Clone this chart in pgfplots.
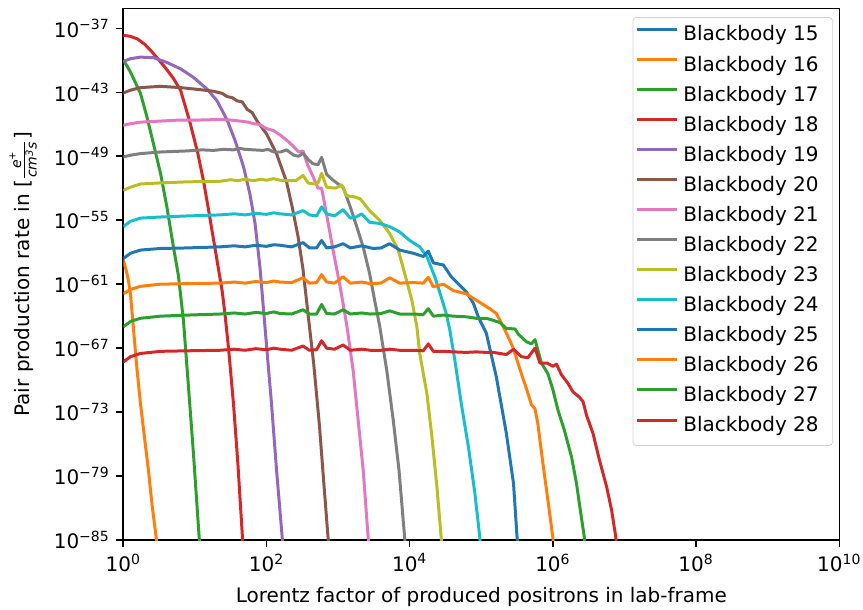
\documentclass[border=0pt]{standalone}
\usepackage{fontspec}
\setmainfont{DejaVu Sans}
\usepackage{amsmath}
\usepackage{pgfplots}
\pgfplotsset{compat=1.18}
\usetikzlibrary{calc}
\definecolor{tBlue}{HTML}{1F77B4}
\definecolor{tOrange}{HTML}{FF7F0E}
\definecolor{tGreen}{HTML}{2CA02C}
\definecolor{tRed}{HTML}{D62728}
\definecolor{tPurple}{HTML}{9467BD}
\definecolor{tBrown}{HTML}{8C564B}
\definecolor{tPink}{HTML}{E377C2}
\definecolor{tGray}{HTML}{7F7F7F}
\definecolor{tOlive}{HTML}{BCBD22}
\definecolor{tCyan}{HTML}{17BECF}
\newcommand{\legent}[1]{#1\kern6.2pt}
\begin{document}
\begin{tikzpicture}
\begin{axis}[
  scale only axis, width=381.9bp, height=283.6bp,
  xmin=0, xmax=10, ymin=-85, ymax=-35.12,
  xtick={0,2,4,6,8,10},
  xticklabels={10\textsuperscript{0},10\textsuperscript{2},10\textsuperscript{4},10\textsuperscript{6},10\textsuperscript{8},10\textsuperscript{10}},
  ytick={-85,-79,-73,-67,-61,-55,-49,-43,-37},
  yticklabels={10\textsuperscript{−85},10\textsuperscript{−79},10\textsuperscript{−73},10\textsuperscript{−67},10\textsuperscript{−61},10\textsuperscript{−55},10\textsuperscript{−49},10\textsuperscript{−43},10\textsuperscript{−37}},
  xtick pos=lower, ytick pos=left,
  tick align=outside, major tick length=3.75pt,
  every tick/.style={black, line width=0.85pt},
  axis line style={line width=0.85pt},
  tick label style={font=\fontsize{10.7}{12.8}\selectfont},
  label style={font=\fontsize{10.7}{12.8}\selectfont},
  xlabel={Lorentz factor of produced positrons in lab-frame},
  ylabel={Pair production rate in [$\frac{\textit{e}^{\textit{+}}}{\textit{cm}^{\textit{3}}\textit{s}}$]},
  xlabel style={at={(axis description cs:0.5,-0.107)}, anchor=center},
  ylabel style={at={(axis description cs:-0.14,0.5)}, anchor=center},
  legend style={at={(0.9912,0.9836)}, anchor=north east, draw=black!18, rounded corners=2pt,
    fill=white, fill opacity=0.8, text opacity=1, font=\fontsize{10.7}{12.8}\selectfont,
    inner xsep=1.3pt, inner ysep=1.9pt, row sep=0pt, column sep=2.7pt,
    nodes={inner sep=0pt, text height=10.7pt, text depth=5.4pt}},
  legend cell align=left,
  legend image code/.code={\draw[#1, line width=1.6pt] (0pt,3.7pt) -- (21.4pt,3.7pt);},
  every axis plot/.append style={line width=1.6pt, line join=round},
]
\addlegendimage{tBlue}\addlegendentry{\legent{Blackbody 15}}
\addplot[tOrange] coordinates {(0,-58.7) (0.04,-59.7) (0.07,-60.6) (0.10,-61.9) (0.14,-65.0) (0.19,-68.9) (0.24,-72.2) (0.30,-75.6) (0.35,-78.4) (0.40,-81.6) (0.46,-84.8) (0.48,-86.5)};
\addlegendentry{\legent{Blackbody 16}}
\addplot[tGreen] coordinates {(0,-40.0) (0.05,-40.5) (0.10,-41.1) (0.17,-42.1) (0.24,-43.1) (0.33,-45.3) (0.42,-47.8) (0.52,-50.6) (0.61,-53.8) (0.70,-57.5) (0.77,-60.2) (0.84,-64.4) (0.91,-70.6) (0.98,-76.9) (1.06,-84.8) (1.08,-86.5)};
\addlegendentry{\legent{Blackbody 17}}
\addplot[tRed] coordinates {(0,-37.65) (0.1,-37.75) (0.2,-38.0) (0.3,-38.5) (0.4,-39.2) (0.5,-40.0) (0.6,-40.8) (0.7,-41.7) (0.8,-42.8) (0.93,-45.8) (1.04,-48.7) (1.12,-51.3) (1.19,-54.0) (1.27,-57.2) (1.33,-59.6) (1.38,-61.6) (1.42,-63.8) (1.47,-67.0) (1.54,-72.3) (1.60,-77.8) (1.66,-84.3) (1.68,-86.5)};
\addlegendentry{\legent{Blackbody 18}}
\addplot[tPurple] coordinates {(0,-40.1) (0.1,-39.85) (0.24,-39.7) (0.42,-39.75) (0.61,-40.2) (0.8,-40.8) (0.98,-41.6) (1.17,-42.7) (1.31,-43.8) (1.45,-45.6) (1.56,-47.5) (1.68,-50.0) (1.77,-52.6) (1.84,-55.3) (1.91,-59.5) (1.96,-63.5) (2.01,-67.5) (2.07,-72.2) (2.14,-78.4) (2.22,-84.8) (2.24,-86.5)};
\addlegendentry{\legent{Blackbody 19}}
\addplot[tBrown] coordinates {(0,-43.06) (0.1,-42.8) (0.24,-42.56) (0.52,-42.44) (0.8,-42.56) (1.07,-42.75) (1.26,-42.9) (1.38,-43.1) (1.45,-43.4) (1.52,-43.5) (1.59,-43.8) (1.66,-43.9) (1.73,-44.6) (1.80,-44.9) (1.86,-45.6) (2.0,-46.9) (2.14,-48.75) (2.28,-51.4) (2.36,-53.8) (2.44,-56.5) (2.51,-59.6) (2.58,-63.8) (2.66,-68.5) (2.74,-74.3) (2.80,-79.6) (2.86,-84.8) (2.88,-86.5)};
\addlegendentry{\legent{Blackbody 20}}
\addplot[tPink] coordinates {(0,-46.1) (0.1,-45.95) (0.24,-45.8) (0.52,-45.7) (0.8,-45.6) (1.07,-45.6) (1.35,-45.55) (1.5,-45.6) (1.63,-45.7) (1.75,-45.8) (1.82,-45.95) (1.9,-46.0) (2.0,-46.4) (2.1,-46.6) (2.19,-47.0) (2.3,-47.6) (2.38,-48.1) (2.45,-48.6) (2.51,-48.5) (2.58,-49.9) (2.65,-50.9) (2.72,-52.0) (2.77,-52.0) (2.84,-54.5) (2.93,-57.8) (3.03,-61.3) (3.12,-64.8) (3.21,-69.1) (3.28,-73.75) (3.35,-78.4) (3.42,-84.8) (3.44,-86.5)};
\addlegendentry{\legent{Blackbody 21}}
\addplot[tGray] coordinates {(0,-49.06) (0.1,-48.9) (0.24,-48.75) (0.52,-48.6) (0.89,-48.5) (1.1,-48.4) (1.26,-48.45) (1.4,-48.35) (1.54,-48.4) (1.62,-48.25) (1.7,-48.35) (1.82,-48.4) (1.95,-48.45) (2.02,-48.35) (2.1,-48.6) (2.2,-48.6) (2.28,-48.4) (2.38,-48.9) (2.45,-49.0) (2.51,-48.7) (2.58,-49.3) (2.65,-49.7) (2.72,-49.8) (2.77,-49.1) (2.84,-50.7) (2.93,-51.25) (3.0,-51.6) (3.07,-51.9) (3.17,-53.75) (3.26,-55.6) (3.35,-57.5) (3.44,-60.0) (3.51,-62.5) (3.58,-64.9) (3.68,-69.1) (3.77,-73.75) (3.85,-78.4) (3.93,-84.8) (3.95,-86.5)};
\addlegendentry{\legent{Blackbody 22}}
\addplot[tOlive] coordinates {(0,-52.2) (0.1,-51.9) (0.24,-51.6) (0.52,-51.5) (0.89,-51.4) (1.35,-51.35) (1.5,-51.2) (1.6,-51.3) (1.7,-51.15) (1.82,-51.3) (1.92,-51.15) (2.0,-51.25) (2.1,-51.1) (2.19,-51.25) (2.3,-51.3) (2.42,-51.25) (2.51,-50.8) (2.58,-51.5) (2.65,-51.6) (2.72,-51.5) (2.77,-50.6) (2.84,-51.9) (2.96,-52.0) (3.05,-51.7) (3.12,-52.7) (3.22,-52.8) (3.31,-53.0) (3.44,-54.1) (3.58,-55.0) (3.72,-56.25) (3.84,-57.8) (3.93,-60.0) (4.03,-62.5) (4.10,-65.0) (4.14,-67.5) (4.24,-71.25) (4.31,-75.3) (4.38,-80.0) (4.44,-84.8) (4.46,-86.5)};
\addlegendentry{\legent{Blackbody 23}}
\addplot[tCyan] coordinates {(0,-55.6) (0.1,-55.1) (0.24,-54.8) (0.52,-54.7) (0.89,-54.6) (1.35,-54.5) (1.55,-54.4) (1.7,-54.5) (1.85,-54.35) (2.0,-54.45) (2.1,-54.3) (2.19,-54.4) (2.35,-54.5) (2.51,-54.1) (2.6,-54.5) (2.7,-54.6) (2.77,-53.75) (2.84,-54.4) (2.95,-54.6) (3.07,-54.0) (3.17,-54.8) (3.25,-54.7) (3.33,-54.4) (3.44,-55.2) (3.58,-55.3) (3.72,-55.6) (3.86,-56.1) (4.0,-56.9) (4.14,-57.5) (4.24,-58.4) (4.28,-59.1) (4.35,-60.3) (4.44,-62.2) (4.51,-63.75) (4.56,-65.3) (4.63,-68.1) (4.72,-72.2) (4.82,-76.25) (4.91,-80.6) (4.98,-84.8) (5.0,-86.5)};
\addlegendentry{\legent{Blackbody 24}}
\addplot[tBlue] coordinates {(0,-58.6) (0.1,-58.1) (0.24,-57.8) (0.52,-57.65) (0.89,-57.6) (1.35,-57.5) (1.55,-57.4) (1.7,-57.5) (1.85,-57.35) (2.0,-57.45) (2.1,-57.3) (2.19,-57.35) (2.35,-57.5) (2.51,-57.1) (2.6,-57.6) (2.7,-57.6) (2.77,-56.9) (2.84,-57.6) (2.95,-57.5) (3.07,-57.2) (3.17,-57.6) (3.33,-57.4) (3.49,-57.65) (3.6,-57.6) (3.72,-57.2) (3.86,-57.8) (4.05,-58.1) (4.19,-58.4) (4.26,-57.9) (4.33,-59.0) (4.47,-59.2) (4.58,-60.3) (4.70,-61.1) (4.79,-61.7) (4.89,-62.8) (4.96,-64.1) (5.07,-65.6) (5.21,-69.7) (5.35,-75.0) (5.45,-79.7) (5.50,-84.8) (5.52,-86.5)};
\addlegendentry{\legent{Blackbody 25}}
\addplot[tOrange] coordinates {(0,-61.9) (0.1,-61.5) (0.24,-61.2) (0.52,-61.0) (0.89,-60.95) (1.35,-60.9) (1.55,-60.8) (1.7,-60.9) (1.85,-60.75) (2.0,-60.85) (2.1,-60.7) (2.19,-60.8) (2.35,-60.85) (2.51,-60.4) (2.6,-60.9) (2.7,-60.85) (2.77,-60.1) (2.84,-60.8) (2.95,-60.9) (3.07,-60.3) (3.17,-60.9) (3.33,-60.8) (3.45,-60.95) (3.6,-60.9) (3.72,-60.4) (3.86,-60.9) (4.05,-60.85) (4.19,-60.9) (4.26,-60.35) (4.33,-61.25) (4.47,-61.0) (4.61,-61.6) (4.79,-61.9) (4.93,-62.5) (5.07,-63.1) (5.12,-63.3) (5.21,-63.75) (5.33,-65.3) (5.44,-66.9) (5.56,-69.4) (5.64,-71.0) (5.70,-72.3) (5.75,-72.7) (5.79,-74.1) (5.86,-77.8) (5.93,-81.25) (6.0,-84.8) (6.02,-86.5)};
\addlegendentry{\legent{Blackbody 26}}
\addplot[tGreen] coordinates {(0,-65.0) (0.1,-64.5) (0.24,-64.2) (0.52,-64.0) (0.89,-63.9) (1.35,-63.8) (1.55,-63.7) (1.7,-63.8) (1.85,-63.65) (2.0,-63.75) (2.1,-63.6) (2.19,-63.75) (2.35,-63.8) (2.51,-63.4) (2.6,-63.8) (2.7,-63.8) (2.77,-62.9) (2.84,-63.75) (2.95,-63.8) (3.07,-63.4) (3.17,-63.8) (3.33,-63.7) (3.45,-63.8) (3.6,-63.75) (3.72,-63.5) (3.86,-63.8) (4.05,-63.8) (4.19,-63.85) (4.26,-63.3) (4.33,-64.0) (4.47,-63.9) (4.61,-64.0) (4.79,-64.06) (4.93,-64.2) (5.07,-64.2) (5.17,-64.4) (5.26,-64.6) (5.35,-65.15) (5.47,-65.2) (5.52,-65.7) (5.63,-66.4) (5.70,-66.6) (5.75,-66.2) (5.84,-68.4) (5.93,-69.4) (6.0,-70.9) (6.07,-72.8) (6.16,-74.7) (6.26,-77.2) (6.33,-79.7) (6.37,-81.6) (6.44,-84.8) (6.46,-86.5)};
\addlegendentry{\legent{Blackbody 27}}
\addplot[tRed] coordinates {(0,-68.3) (0.1,-67.8) (0.24,-67.5) (0.52,-67.3) (0.89,-67.25) (1.35,-67.2) (1.55,-67.1) (1.7,-67.2) (1.85,-67.05) (2.0,-67.15) (2.1,-67.0) (2.19,-67.1) (2.35,-67.2) (2.51,-66.8) (2.6,-67.2) (2.7,-67.15) (2.77,-66.3) (2.84,-67.0) (2.95,-67.1) (3.07,-66.7) (3.17,-67.2) (3.33,-67.1) (3.45,-67.2) (3.6,-67.2) (3.72,-67.1) (3.86,-67.2) (4.05,-67.2) (4.19,-67.25) (4.26,-66.6) (4.33,-67.3) (4.47,-67.3) (4.61,-67.35) (4.79,-67.4) (4.93,-67.35) (5.07,-67.4) (5.17,-67.4) (5.26,-67.5) (5.35,-67.6) (5.45,-67.1) (5.56,-67.8) (5.65,-67.9) (5.75,-67.0) (5.82,-68.4) (5.92,-68.4) (6.0,-68.7) (6.05,-68.5) (6.12,-69.5) (6.21,-70.3) (6.28,-71.1) (6.37,-71.6) (6.42,-72.0) (6.47,-73.3) (6.56,-75.0) (6.65,-77.5) (6.75,-80.0) (6.82,-82.2) (6.88,-84.8) (6.90,-86.5)};
\addlegendentry{\legent{Blackbody 28}}
\end{axis}
\pgfresetboundingbox
\path ($(current axis.south west)+(-65.76bp,-36.8bp)$) rectangle ($(current axis.north east)+(12.64bp,4.43bp)$);
\end{tikzpicture}
\end{document}
